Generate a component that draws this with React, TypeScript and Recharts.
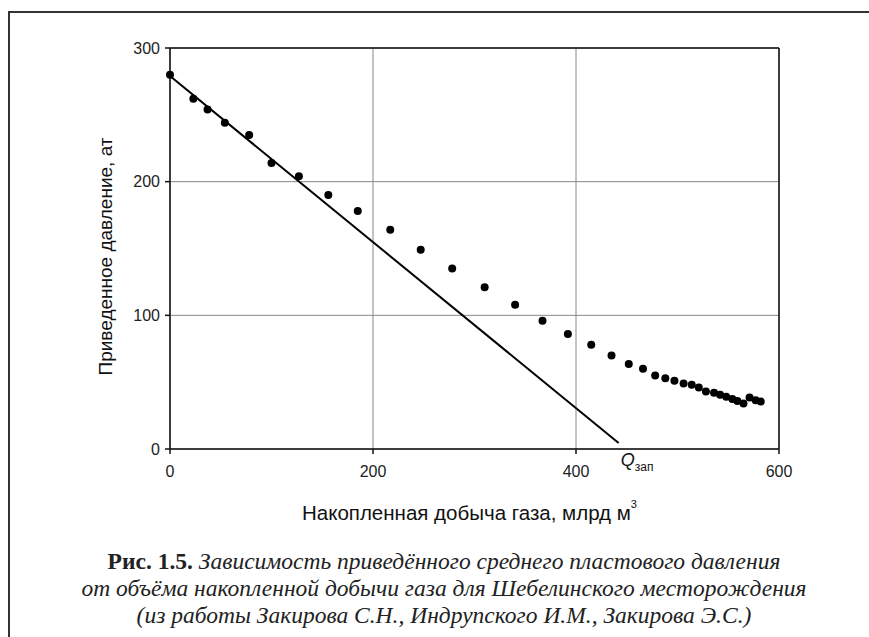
import { CartesianGrid, ReferenceDot, ReferenceLine, Scatter, ScatterChart, XAxis, YAxis } from 'recharts';

// накопленная добыча газа, млрд м3
const cumProduction = [
  0, 23, 37, 54, 78, 100, 127, 156, 185, 217, 247, 278, 310, 340, 367, 392, 415, 435, 452, 466,
  478, 488, 497, 506, 514, 521, 528, 536, 542, 548, 554, 559, 565, 571, 577, 582,
];
// приведённое давление, ат
const pressure = [
  280, 262, 254, 244, 235, 214, 204, 190, 178, 164, 149, 135, 121, 108, 96, 86, 78, 70, 63.5, 60,
  55, 53, 51, 49, 48, 46, 43, 42, 40.5, 39, 37.5, 36, 34, 38.5, 36.5, 35.5,
];

// экстраполяция начального участка до нулевого давления
const trendX = [0, 442];
const trendY = [279, 4.5];
const Q_RESERVES = 449;

const xTicks = [0, 200, 400, 600];
const yTicks = [0, 100, 200, 300];

const points = cumProduction.map((q, i) => ({ q, p: pressure[i] }));
const trend = trendX.map((q, i) => ({ q, p: trendY[i] }));

const SANS = '"Liberation Sans", Arial, sans-serif';
const SERIF = '"Liberation Serif", "Times New Roman", serif';

function YTitle({ viewBox }: any) {
  const cx = viewBox.x - 5;
  const cy = viewBox.y + viewBox.height / 2 + 8;
  return (
    <text x={cx} y={cy} transform={`rotate(-90 ${cx} ${cy})`} textAnchor="middle" dominantBaseline="central"
      fontFamily={SANS} fontSize={19} fill="#111">
      Приведенное давление, ат
    </text>
  );
}

function XTitle({ viewBox }: any) {
  const cx = viewBox.x + viewBox.width / 2 - 5;
  const y = viewBox.y + 71;
  return (
    <text x={cx} y={y} textAnchor="middle" fontFamily={SANS} fontSize={20.5} fill="#111">
      Накопленная добыча газа, млрд м<tspan dy={-12} fontSize={11}>3</tspan>
    </text>
  );
}

function QLabel({ viewBox }: any) {
  const x = viewBox.x - 5;
  const y = viewBox.y + 17;
  return (
    <text x={x} y={y} fontFamily={SANS} fill="#111">
      <tspan fontSize={18} fontStyle="italic">Q</tspan>
      <tspan fontSize={12} dy={5}>зап</tspan>
    </text>
  );
}

export default function App() {
  return (
    <div style={{ position: 'absolute', left: 0, top: 0, width: 869, height: 637, background: '#fff', overflow: 'hidden' }}>
      <div style={{ position: 'absolute', left: 8, top: 11, width: 880, height: 700, border: '2px solid #333' }} />
      <div style={{ position: 'absolute', left: 0, top: 0 }}>
        <ScatterChart width={869} height={637} margin={{ top: 48, right: 90, bottom: 158, left: 110 }}>
          <CartesianGrid stroke="#888" strokeWidth={1} />
          <XAxis type="number" dataKey="q" domain={[0, 600]} ticks={xTicks} height={30}
            axisLine={{ stroke: '#111', strokeWidth: 1.5 }} tickLine={{ stroke: '#111', strokeWidth: 1.5 }}
            tickSize={5} tickMargin={12} tick={{ fontFamily: SANS, fontSize: 16, fill: '#222' }}
            label={<XTitle />} />
          <YAxis type="number" dataKey="p" domain={[0, 300]} ticks={yTicks} width={60}
            axisLine={{ stroke: '#111', strokeWidth: 1.5 }} tickLine={{ stroke: '#111', strokeWidth: 1.5 }}
            tickSize={5} tickMargin={5} tick={{ fontFamily: SANS, fontSize: 16, fill: '#222' }}
            label={<YTitle />} />
          <ReferenceLine y={300} stroke="#111" strokeWidth={1.5} />
          <ReferenceLine x={600} stroke="#111" strokeWidth={1.5} />
          <Scatter data={trend} line={{ stroke: '#000', strokeWidth: 2 }} shape={() => <g />} isAnimationActive={false} />
          <Scatter data={points} fill="#000" isAnimationActive={false}
            shape={(props: any) => <circle cx={props.cx} cy={props.cy} r={4} fill="#000" />} />
          <ReferenceDot x={Q_RESERVES} y={0} r={0} stroke="none" label={<QLabel />} />
        </ScatterChart>
      </div>
      <div style={{ position: 'absolute', left: -6, width: 900, top: 548, textAlign: 'center', fontFamily: SERIF, fontSize: 23.5, lineHeight: '27px', color: '#222' }}>
        <b style={{ fontStyle: 'normal' }}>Рис. 1.5.</b>{' '}
        <i>Зависимость приведённого среднего пластового давления</i>
        <br />
        <i>от объёма накопленной добычи газа для Шебелинского месторождения</i>
        <br />
        <i>(из работы Закирова С.Н., Индрупского И.М., Закирова Э.С.)</i>
      </div>
    </div>
  );
}
